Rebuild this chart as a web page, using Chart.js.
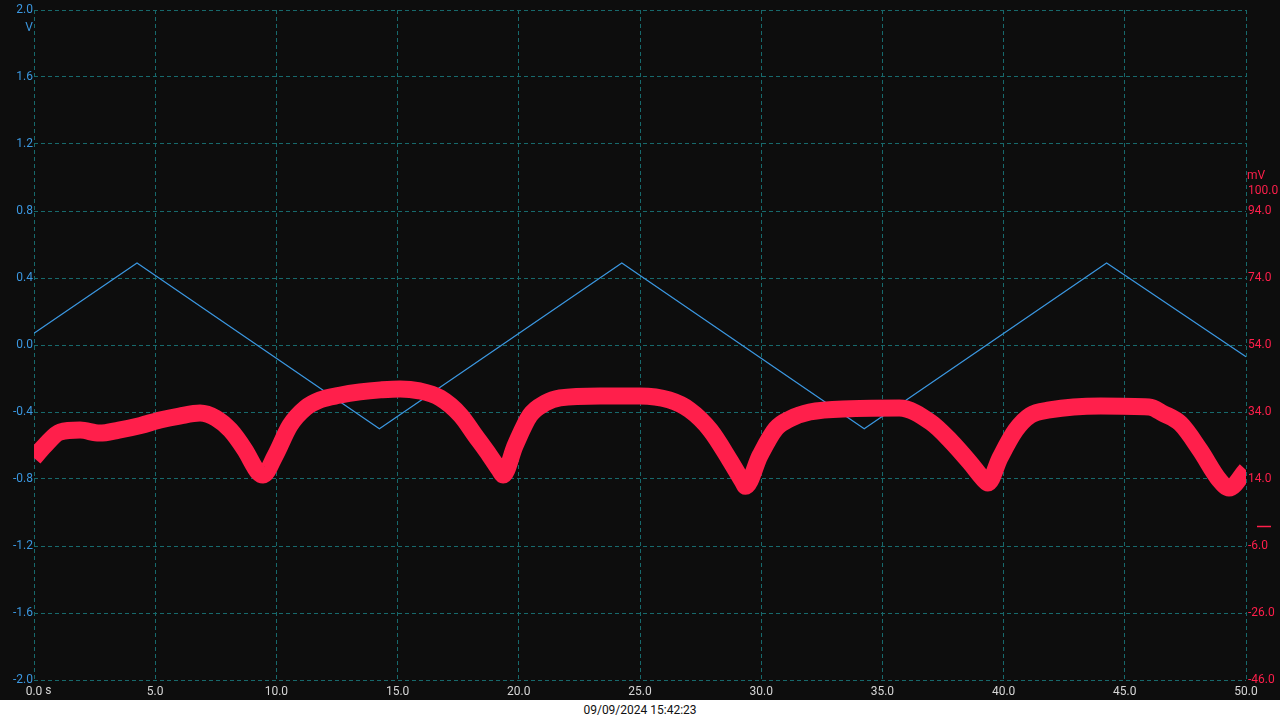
<!DOCTYPE html>
<html>
<head>
<meta charset="utf-8">
<script src="https://cdn.jsdelivr.net/npm/chart.js@4/dist/chart.umd.min.js"></script>
<style>
  html, body { margin: 0; padding: 0; background: #fff; }
  #wrap { width: 1280px; height: 700px; background: #0d0d0d; position: relative; }
  #scope { display: block; }
  #stamp { width: 1280px; height: 20px; background: #fff; color: #111;
    font: 12px Roboto, sans-serif; text-align: center; line-height: 20px; }
</style>
</head>
<body>
<div id="wrap"><canvas id="scope"></canvas></div>
<div id="stamp">09/09/2024 15:42:23</div>
<script>
// tick labels
const timeTicks = [0, 5, 10, 15, 20, 25, 30, 35, 40, 45, 50];
const voltTicks = [-2.0, -1.6, -1.2, -0.8, -0.4, 0.0, 0.4, 0.8, 1.2, 1.6, 2.0];
const mvTicks = [-46, -26, -6, 14, 34, 54, 74, 94, 100];

// Channel A (V) - triangle wave corners
const blueT = [0, 4.25, 14.25, 24.25, 34.25, 44.25, 50];
const blueV = [0.07, 0.49, -0.5, 0.49, -0.5, 0.49, -0.07];

// Channel B (mV) - centre of noisy band
const redT = [0, 0.45, 1.07, 1.9, 2.7, 3.5, 4.4, 5.2, 6.0, 6.85, 7.5, 8.1, 8.7, 9.25, 9.45, 9.95,
  10.56, 11.2, 11.8, 12.6, 13.45, 14.3, 15.1, 15.9, 16.75, 17.6, 18.2, 18.8, 19.2, 19.35, 19.85,
  20.46, 21.1, 21.7, 23.35, 25, 26.2, 27.05, 27.9, 28.7, 29.25, 29.35, 29.95,
  30.6, 31.2, 32, 33.7, 35.7, 37, 37.8, 38.6, 39.2, 39.35, 39.85,
  40.5, 41.1, 41.9, 44, 46, 46.6, 47.3, 48.1, 48.9, 49.3, 50];
const redMv = [20.3, 24, 28, 28.6, 27.7, 28.6, 30, 31.6, 32.8, 33.7, 32.2, 28.6, 22.7, 16, 15.2, 21,
  30, 35.2, 37.6, 39, 40, 40.6, 40.9, 40.3, 38.2, 33, 27, 21, 16.7, 15.2, 24,
  33, 36.7, 38.2, 38.8, 38.8, 37.6, 34.6, 28.6, 19.7, 13, 11.8, 21,
  29, 32, 34, 35, 35.2, 30.9, 25.5, 19, 13.7, 12.8, 20.3,
  28.6, 33, 34.6, 35.8, 35.5, 33.5, 30.5, 22.7, 13.7, 11.3, 16.7];

const gridCol = '#17696c';
const blueCol = '#3b97e0';
const redCol = '#ff1f4b';
const font = { family: 'Roboto', size: 12 };

// extra labels: units, " s" suffix, zero marker
const extras = {
  id: 'extras',
  afterDraw(chart) {
    const c = chart.ctx;
    const x = chart.scales.x, y2 = chart.scales.y2;
    c.save();
    c.font = '12px Roboto';
    c.textBaseline = 'middle';
    c.fillStyle = blueCol;
    c.textAlign = 'right';
    c.fillText('V', 33, 28);
    c.fillStyle = redCol;
    c.textAlign = 'left';
    c.fillText('mV', 1247, 176);
    c.fillStyle = '#d6d6d6';
    const w = c.measureText('0.0').width;
    c.fillText(' s', x.getPixelForValue(0) + w / 2, 691);
    c.strokeStyle = redCol;
    c.lineWidth = 1.5;
    const zy = Math.round(y2.getPixelForValue(0)) + 0.5;
    c.beginPath();
    c.moveTo(1257, zy);
    c.lineTo(1271, zy);
    c.stroke();
    c.restore();
  }
};

new Chart(document.getElementById('scope'), {
  type: 'line',
  data: {
    datasets: [{
      label: 'B',
      data: redT.map((t, i) => ({ x: t, y: redMv[i] })),
      yAxisID: 'y2',
      borderColor: redCol,
      borderWidth: 17,
      borderJoinStyle: 'round',
      borderCapStyle: 'butt',
      cubicInterpolationMode: 'monotone',
      pointRadius: 0
    }, {
      label: 'A',
      data: blueT.map((t, i) => ({ x: t, y: blueV[i] })),
      yAxisID: 'y',
      borderColor: blueCol,
      borderWidth: 1.2,
      tension: 0,
      pointRadius: 0
    }]
  },
  options: {
    responsive: true,
    maintainAspectRatio: false,
    animation: false,
    layout: { padding: { top: 10, left: 0, right: 0, bottom: 0 } },
    plugins: { legend: { display: false }, tooltip: { enabled: false } },
    scales: {
      x: {
        type: 'linear', min: 0, max: 50,
        afterBuildTicks: a => { a.ticks = timeTicks.map(v => ({ value: v })); },
        afterFit: a => { a.height = 20; },
        grid: { color: gridCol, lineWidth: 1, drawTicks: false },
        border: { display: false, dash: [4, 3] },
        ticks: { color: '#d6d6d6', font, padding: 5, maxRotation: 0, autoSkip: false,
          callback: v => v.toFixed(1) }
      },
      y: {
        position: 'left', min: -2, max: 2,
        afterBuildTicks: a => { a.ticks = voltTicks.map(v => ({ value: v })); },
        afterFit: a => { a.width = 34; },
        grid: { color: gridCol, lineWidth: 1, drawTicks: false },
        border: { display: false, dash: [4, 3] },
        ticks: { color: blueCol, font, padding: 1, autoSkip: false,
          callback: v => v.toFixed(1) }
      },
      y2: {
        position: 'right', min: -46, max: 154,
        afterBuildTicks: a => { a.ticks = mvTicks.map(v => ({ value: v })); },
        afterFit: a => { a.width = 34; },
        grid: { display: false, drawTicks: false },
        border: { display: false },
        ticks: { color: redCol, font, padding: 2, autoSkip: false,
          callback: v => v.toFixed(1) }
      }
    }
  },
  plugins: [extras]
});
</script>
</body>
</html>
